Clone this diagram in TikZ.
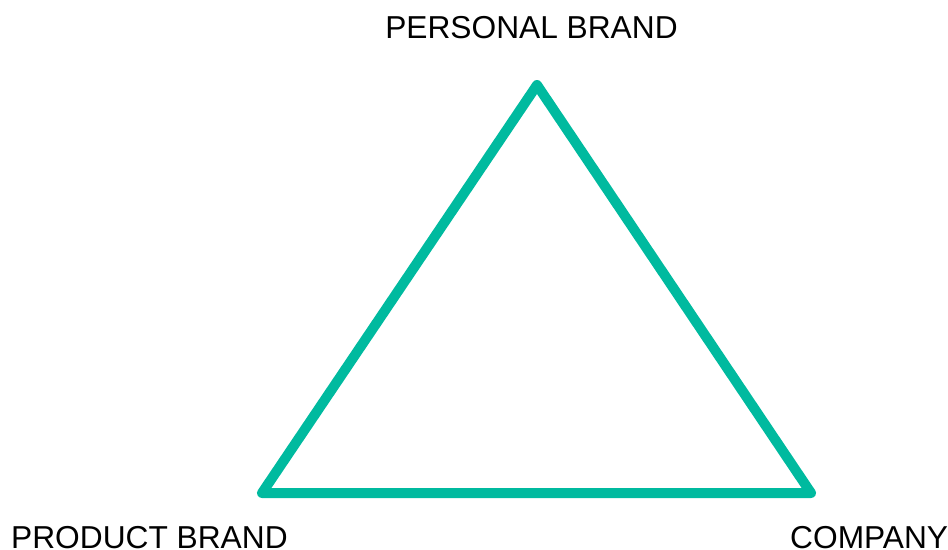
\documentclass[tikz,border=0pt]{standalone}
\usepackage{fontspec}
\setmainfont{Liberation Sans}
\usetikzlibrary{positioning}
\definecolor{brandteal}{HTML}{00BA9F}

\begin{document}
\begin{tikzpicture}[x=1pt, y=-1pt, line join=round, line cap=round,
        side/.style ={draw=brandteal, line width=10pt},
        label/.style ={inner sep=0pt, text=black, font=\fontsize{31.7}{38}\selectfont}]

        \useasboundingbox (0, 0) rectangle (948, 549);

        % vertices of the triangle
        \coordinate (personal) at (537, 85);
        \coordinate (product) at (262, 493);
        \coordinate (company) at (811, 493);

        \node[label, anchor=base] (tpersonal) at (531.5, 38.5) {PERSONAL BRAND};
        \node[label, anchor=base west] (tproduct) at (11, 548) {PRODUCT BRAND};
        \node[label, anchor=base west] (tcompany) at (790, 548) {COMPANY};

        \path[side] (personal) -- (product) -- (company) -- cycle;
    \end{tikzpicture}
\end{document}
